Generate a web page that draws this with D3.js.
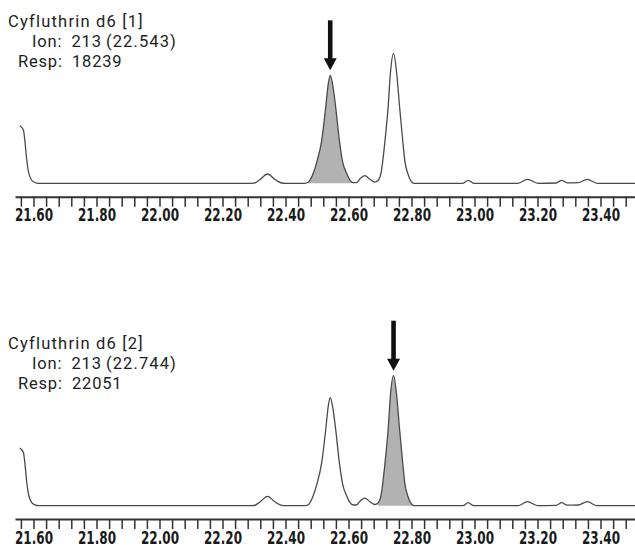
<!DOCTYPE html>
<html>
<head>
<meta charset="utf-8">
<script src="https://cdn.jsdelivr.net/npm/d3@7"></script>
<style>
  body { margin: 0; background: #fff; }
  .info { font-family: Roboto, "Liberation Sans", sans-serif; font-size: 16.5px; fill: #222; letter-spacing: 0.8px; }
  .axis text { font-family: "DejaVu Sans Condensed", "Liberation Sans Narrow", sans-serif; font-weight: bold; font-size: 18px; fill: #1a1a1a; }
  .axis path, .axis line { stroke: #333; }
</style>
</head>
<body>
<svg id="chart"></svg>
<script>
// クロマトグラムの読み取り値 (保持時間 min, 強度 counts)
var retTimes = [21.557, 21.568, 21.573, 21.578, 21.583, 21.594, 21.605, 21.615, 21.80, 22.28,
  22.300, 22.318, 22.343, 22.368, 22.388, 22.40, 22.462, 22.472, 22.488, 22.500,
  22.515, 22.528, 22.536, 22.542, 22.549, 22.559, 22.571, 22.581, 22.594, 22.605,
  22.615, 22.625, 22.638, 22.652, 22.668, 22.684, 22.693, 22.703, 22.716, 22.726,
  22.733, 22.743, 22.753, 22.762, 22.772, 22.779, 22.788, 22.799, 22.808, 22.963,
  22.980, 22.998, 23.138, 23.168, 23.202, 23.259, 23.277, 23.294, 23.329, 23.358,
  23.389, 23.512];
var abundance = [57600, 53300, 41600, 25000, 13300, 3300, 800, 0, 0, 0,
  200, 3500, 9300, 3500, 300, 0, 0, 1000, 10000, 22000,
  43000, 77000, 100000, 108000, 100000, 77000, 43000, 22000, 10000, 3000,
  700, 700, 5000, 7600, 4000, 1200, 2500, 10000, 43000, 77000,
  110000, 130000, 110000, 77000, 43000, 22000, 10000, 2000, 0, 0,
  3000, 0, 0, 4000, 0, 300, 3000, 500, 700, 4000,
  0, 0];

// パネルごとの情報
var titles = ["Cyfluthrin d6 [1]", "Cyfluthrin d6 [2]"];
var ions = [213, 213];
var ionRT = ["22.543", "22.744"];
var resp = [18239, 22051];
var shadeFrom = [22.472, 22.693];
var shadeTo = [22.615, 22.808];
var arrowRT = [22.542, 22.743];

// x軸の目盛り
var tickLabels = ["21.60", "21.80", "22.00", "22.20", "22.40", "22.60", "22.80", "23.00", "23.20", "23.40"];
var minorStep = 0.04;

var W = 635, H = 547;
var panelOffset = [0, 322.4];

var svg = d3.select("#chart").attr("width", W).attr("height", H);

var points = retTimes.map(function(t, i) { return {t: t, v: abundance[i]}; });

var xScale = d3.scaleLinear().domain([21.5413, 23.5095]).range([15, W]);
var yScale = d3.scaleLinear().domain([0, 140000]).range([183.3, 43.3]);

var minorTicks = d3.range(0, 49).map(function(i) { return +(21.56 + i * minorStep).toFixed(2); });

var line = d3.line()
  .x(function(d) { return xScale(d.t); })
  .y(function(d) { return yScale(d.v); })
  .curve(d3.curveMonotoneX);

var area = d3.area()
  .x(function(d) { return xScale(d.t); })
  .y0(yScale(0))
  .y1(function(d) { return yScale(d.v); })
  .curve(d3.curveMonotoneX);

titles.forEach(function(title, p) {
  var g = svg.append("g").attr("transform", "translate(0," + panelOffset[p] + ")");

  // 積分範囲の塗りつぶし
  var shaded = points.filter(function(d) { return d.t >= shadeFrom[p] && d.t <= shadeTo[p]; });
  g.append("path")
    .attr("d", area(shaded))
    .attr("fill", "#b2b2b2");

  // 波形
  g.append("path")
    .datum(points)
    .attr("d", line)
    .attr("fill", "none")
    .attr("stroke", "#4a4a4a")
    .attr("stroke-width", 1.3);

  // x軸
  var xAxis = d3.axisBottom(xScale)
    .tickValues(minorTicks)
    .tickSize(10)
    .tickSizeOuter(0)
    .tickPadding(2)
    .tickFormat(function(d) {
      var s = d.toFixed(2);
      return tickLabels.indexOf(s) >= 0 ? s : "";
    });
  var ax = g.append("g")
    .attr("class", "axis")
    .attr("transform", "translate(0," + (yScale(0) + 13.4) + ")")
    .call(xAxis);
  ax.select(".domain").attr("stroke-width", 2);
  ax.selectAll(".tick line").attr("stroke-width", 1.5);
  ax.selectAll(".tick text")
    .filter(function() { return this.textContent !== ""; })
    .attr("textLength", 38)
    .attr("lengthAdjust", "spacingAndGlyphs");

  // 矢印
  var peak = d3.max(points.filter(function(d) { return Math.abs(d.t - arrowRT[p]) < 0.005; }), function(d) { return d.v; });
  var ax0 = xScale(arrowRT[p]);
  var tipY = yScale(peak) - 5;
  g.append("rect")
    .attr("x", ax0 - 2.3).attr("y", tipY - 50)
    .attr("width", 4.6).attr("height", 40)
    .attr("fill", "#111");
  g.append("path")
    .attr("d", "M" + (ax0 - 6.5) + "," + (tipY - 12) + "L" + (ax0 + 6.5) + "," + (tipY - 12) + "L" + ax0 + "," + tipY + "Z")
    .attr("fill", "#111");

  // ラベル
  var info = g.append("text").attr("class", "info");
  info.append("tspan").attr("x", 8).attr("y", 27)
    .style("letter-spacing", "1.2px").text(title);
  info.append("tspan").attr("x", 32).attr("y", 47).text("Ion:");
  info.append("tspan").attr("x", 71.5).attr("y", 47).text(ions[p]);
  info.append("tspan").attr("x", 106).attr("y", 47)
    .style("letter-spacing", "1.1px").text("(" + ionRT[p] + ")");
  info.append("tspan").attr("x", 18).attr("y", 66.5).text("Resp:");
  info.append("tspan").attr("x", 72).attr("y", 66.5).text(resp[p]);
});
</script>
</body>
</html>
